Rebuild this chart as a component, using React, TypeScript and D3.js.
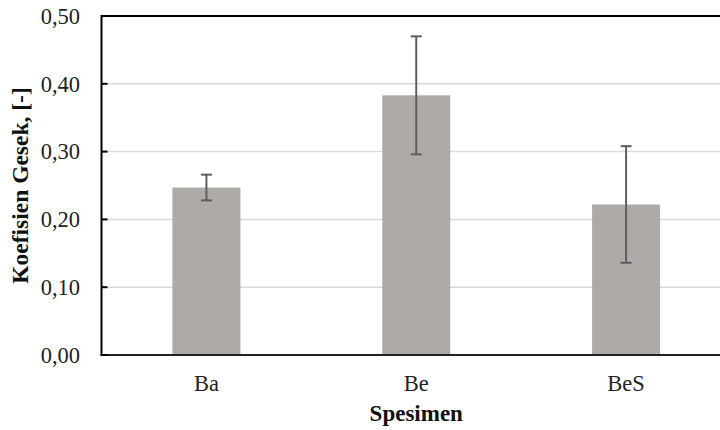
import React from "react";
import * as d3 from "d3";

const categories = ["Ba", "Be", "BeS"];
const values = [0.247, 0.383, 0.222];
const errors = [0.019, 0.087, 0.086];
const yTicks = [0, 0.1, 0.2, 0.3, 0.4, 0.5];

const W = 720;
const H = 430;
const left = 101.5;
const top = 16;
const bottom = 355;
const right = 731;

export default function App() {
  const x = d3
    .scaleBand<string>()
    .domain(categories)
    .range([left, right])
    .paddingInner(0.676)
    .paddingOuter(0.338);
  const y = d3.scaleLinear().domain([0, 0.5]).range([bottom, top]);
  const fmt = (v: number) => d3.format(".2f")(v).replace(".", ",");
  const font = "'Liberation Serif', 'Times New Roman', serif";

  return (
    <svg
      width={W}
      height={H}
      style={{ position: "absolute", left: 0, top: 0, background: "#fff" }}
      fontFamily={font}
    >
      {yTicks.slice(1, -1).map((t) => (
        <line
          key={"g" + t}
          x1={left}
          x2={W}
          y1={y(t)}
          y2={y(t)}
          stroke="#d9d9d9"
          strokeWidth={1.5}
        />
      ))}
      {categories.map((c, i) => (
        <rect
          key={"b" + c}
          x={x(c)}
          y={y(values[i])}
          width={x.bandwidth()}
          height={bottom - y(values[i])}
          fill="#aeaaa8"
        />
      ))}
      {categories.map((c, i) => {
        const cx = (x(c) as number) + x.bandwidth() / 2;
        const y1 = y(values[i] + errors[i]);
        const y2 = y(values[i] - errors[i]);
        return (
          <g key={"e" + c} stroke="#5e5e5e" strokeWidth={2}>
            <line x1={cx} x2={cx} y1={y1} y2={y2} />
            <line x1={cx - 5.5} x2={cx + 5.5} y1={y1} y2={y1} />
            <line x1={cx - 5.5} x2={cx + 5.5} y1={y2} y2={y2} />
          </g>
        );
      })}
      <line x1={left} x2={W} y1={top} y2={top} stroke="#000" strokeWidth={2} />
      <line x1={left} x2={left} y1={top - 1} y2={bottom + 1} stroke="#000" strokeWidth={2} />
      <line x1={left - 1} x2={W} y1={bottom} y2={bottom} stroke="#222" strokeWidth={2} />
      {yTicks.map((t) => (
        <g key={"t" + t}>
          <line x1={left} x2={left + 6} y1={y(t)} y2={y(t)} stroke="#000" strokeWidth={2} />
          <text
            x={80}
            y={y(t)}
            dy="0.35em"
            textAnchor="end"
            fontSize={22.5}
            fill="#222"
          >
            {fmt(t)}
          </text>
        </g>
      ))}
      {categories.map((c) => (
        <text
          key={"l" + c}
          x={(x(c) as number) + x.bandwidth() / 2}
          y={391}
          textAnchor="middle"
          fontSize={22.5}
          fill="#222"
        >
          {c}
        </text>
      ))}
      <text
        x={(x("Be") as number) + x.bandwidth() / 2}
        y={421}
        textAnchor="middle"
        fontSize={23}
        fontWeight="bold"
        fill="#111"
      >
        Spesimen
      </text>
      <text
        transform={`translate(28, ${(top + bottom) / 2}) rotate(-90)`}
        textAnchor="middle"
        fontSize={23.5}
        fontWeight="bold"
        fill="#111"
      >
        Koefisien Gesek, [-]
      </text>
    </svg>
  );
}
